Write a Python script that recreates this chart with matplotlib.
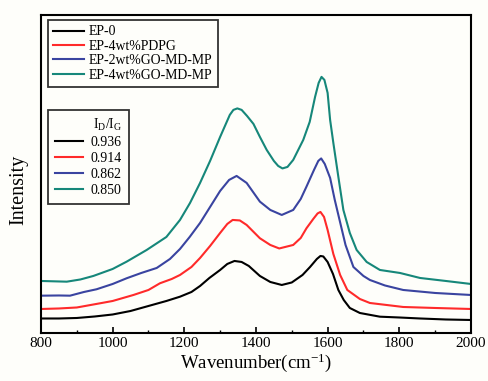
import matplotlib
matplotlib.use("Agg")
import matplotlib.pyplot as plt
from matplotlib.ticker import MultipleLocator, NullLocator

plt.rcParams['font.family'] = ['Liberation Serif', 'DejaVu Serif']
plt.rcParams['mathtext.fontset'] = 'custom'
plt.rcParams['mathtext.rm'] = 'Liberation Serif'
plt.rcParams['mathtext.it'] = 'Liberation Serif:italic'

# Raman spectra (arbitrary intensity units)
wn_ep0 = [800, 850, 900, 950, 1000, 1050, 1100, 1150, 1188, 1220, 1244, 1270, 1300, 1320,
          1340, 1360, 1380, 1411, 1440, 1472, 1500, 1530, 1551, 1570, 1580, 1588, 1600, 1615,
          1630, 1645, 1662, 1690, 1746, 1800, 1858, 1930, 2000]
i_ep0 = [14.5, 14.5, 15, 16.5, 18.5, 22, 27, 32, 36.3, 41, 47, 55, 63, 69,
         72, 71, 67, 57, 51, 48, 50.5, 58, 66, 74, 77, 76.5, 71, 59,
         43, 33, 25, 20, 16.3, 15.5, 14.5, 13.5, 13]

wn_pdpg = [800, 850, 900, 965, 1000, 1058, 1100, 1132, 1165, 1188, 1220, 1244, 1272, 1300,
           1320, 1335, 1355, 1374, 1411, 1440, 1465, 1504, 1525, 1541, 1560, 1572, 1580, 1590,
           1600, 1616, 1635, 1655, 1690, 1718, 1811, 1900, 2000]
i_pdpg = [24, 24.5, 25.5, 29.7, 32, 38, 43, 49.7, 54, 58, 66, 75, 87, 100,
          109, 113, 112.5, 108, 94.7, 88, 84.5, 88, 95, 104.7, 114, 119.5, 121, 116,
          103, 79, 58, 43, 34, 30, 26, 25, 24]

wn_go2 = [800, 850, 881, 920, 955, 1000, 1039, 1080, 1123, 1160, 1188, 1215, 1244, 1272,
          1300, 1325, 1346, 1374, 1411, 1440, 1472, 1504, 1525, 1541, 1562, 1574, 1582, 1592,
          1607, 1620, 1630, 1650, 1672, 1700, 1718, 1760, 1811, 1900, 2000]
i_go2 = [37.3, 37.5, 37.3, 41, 43.7, 49, 54.7, 60, 65, 74, 84, 96, 110, 126,
         142, 153, 157, 150, 131.3, 123, 118, 123, 134, 146.3, 163, 172, 174.5, 169,
         155, 133, 118, 88, 66, 57, 53, 47.5, 43, 40, 38]

wn_go4 = [800, 872, 910, 946, 1000, 1039, 1095, 1150, 1188, 1216, 1244, 1272, 1300, 1327,
          1337, 1348, 1360, 1375, 1393, 1411, 1430, 1450, 1462, 1474, 1488, 1504, 1532, 1550,
          1565, 1575, 1583, 1591, 1600, 1607, 1616, 1630, 1644, 1662, 1681, 1709, 1746, 1802,
          1858, 1930, 2000]
i_go4 = [52, 51.3, 53.5, 57, 64, 71.3, 83, 96, 113, 130, 150, 172, 196, 218,
         223, 224.5, 223, 217, 209, 196, 183, 172, 167, 164.5, 166, 173, 193, 211,
         236, 250, 256, 253, 240, 213, 190, 156, 123, 100, 83, 71, 63, 60,
         55, 52, 49]

labels = ['EP-0', 'EP-4wt%PDPG', 'EP-2wt%GO-MD-MP', 'EP-4wt%GO-MD-MP']
ratios = ['0.936', '0.914', '0.862', '0.850']
colors = ['#000000', '#ff2a2a', '#3a44a0', '#16877a']

BG = '#fefefa'
fig = plt.figure(figsize=(4.88, 3.81), dpi=100, facecolor=BG)
ax = fig.add_axes([0.084, 0.126, 0.881, 0.835], facecolor=BG)

series = [(wn_ep0, i_ep0), (wn_pdpg, i_pdpg), (wn_go2, i_go2), (wn_go4, i_go4)]
lines = []
for (x, y), c, lab in zip(series, colors, labels):
    ln, = ax.plot(x, y, color=c, lw=1.5, label=lab, solid_joinstyle='round')
    lines.append(ln)

ax.set_xlim(800, 2000)
ax.set_ylim(0, 318)
ax.xaxis.set_major_locator(MultipleLocator(200))
ax.xaxis.set_minor_locator(MultipleLocator(100))
ax.yaxis.set_major_locator(NullLocator())
ax.tick_params(axis='x', which='major', direction='in', length=4, width=1.2, labelsize=11, pad=3)
ax.tick_params(axis='x', which='minor', direction='in', length=2.5, width=1.0)
for s in ax.spines.values():
    s.set_linewidth(1.5)

ax.set_xlabel('Wavenumber(cm$^{-1}$)', fontsize=13.5, labelpad=1)
ax.set_ylabel('Intensity', fontsize=14.5)
ax.yaxis.set_label_coords(-0.03, 0.45)

leg1 = ax.legend(handles=lines, labels=labels, loc='upper left', bbox_to_anchor=(0.016, 0.984),
                 borderaxespad=0, fontsize=9.9, frameon=True, fancybox=False, edgecolor='black',
                 labelspacing=0.1, handlelength=2.2, handletextpad=0.4, borderpad=0.4)
leg1.get_frame().set_linewidth(1.3)
leg1.get_frame().set_facecolor(BG)
ax.add_artist(leg1)

leg2 = ax.legend(handles=lines, labels=ratios, loc='upper left', bbox_to_anchor=(0.016, 0.701),
                 borderaxespad=0, fontsize=10, frameon=True, fancybox=False, edgecolor='black',
                 title='I$_\\mathrm{D}$/I$_\\mathrm{G}$', title_fontsize=10,
                 labelspacing=0.22, handlelength=2.0, handletextpad=0.6, borderpad=0.5)
leg2.get_frame().set_linewidth(1.3)
leg2.get_frame().set_facecolor(BG)
leg2._legend_box.align = 'right'

fig.savefig('out.png', dpi=100, facecolor=BG)
